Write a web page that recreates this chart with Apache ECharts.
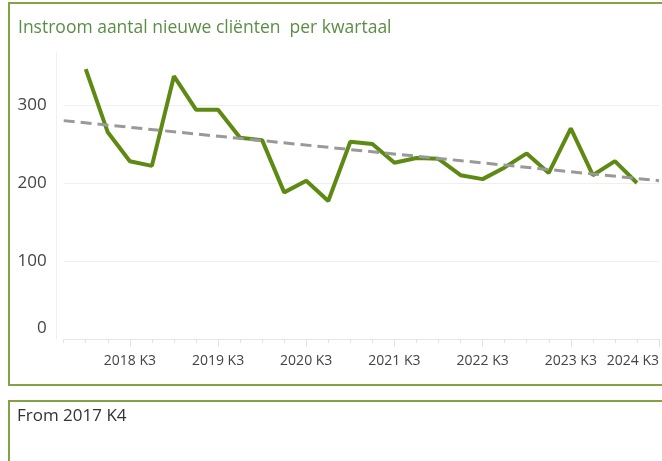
<!DOCTYPE html>
<html>
<head>
<meta charset="utf-8">
<script src="https://cdn.jsdelivr.net/npm/echarts@6/dist/echarts.min.js"></script>
<style>
  html, body { margin: 0; padding: 0; background: #fff; }
  #container { width: 662px; height: 461px; }
</style>
</head>
<body>
<div id="container"></div>
<script>
// kwartalen (2017 K4 heeft geen waarde)
const quarters = [
  '2017 K4',
  '2018 K1', '2018 K2', '2018 K3', '2018 K4',
  '2019 K1', '2019 K2', '2019 K3', '2019 K4',
  '2020 K1', '2020 K2', '2020 K3', '2020 K4',
  '2021 K1', '2021 K2', '2021 K3', '2021 K4',
  '2022 K1', '2022 K2', '2022 K3', '2022 K4',
  '2023 K1', '2023 K2', '2023 K3', '2023 K4',
  '2024 K1', '2024 K2', '2024 K3'
]
const instroom = [
  null,
  346, 265, 228, 222,
  337, 294, 294, 258,
  255, 188, 203, 177,
  253, 250, 226, 232,
  231, 210, 205, 220,
  238, 213, 270, 210,
  228, 200, null
]
const trendline = [280, 203]
const tickLabels = ['2018 K3', '2019 K3', '2020 K3', '2021 K3', '2022 K3', '2023 K3', '2024 K3']
const yTicks = [0, 100, 200, 300]

const green = '#5e8a14'
const border = '#82a244'
const fontFamily = '"Open Sans", "Noto Sans", sans-serif'

const option = {
  animation: false,
  title: {
    text: 'Instroom aantal nieuwe cliënten  per kwartaal',
    left: 18,
    top: 19,
    padding: 0,
    textStyle: { color: '#5b8e45', fontSize: 17.5, fontWeight: 'normal', fontFamily: fontFamily }
  },
  graphic: [
    { type: 'rect', shape: { x: 9, y: 3, width: 700, height: 382 }, style: { fill: 'none', stroke: border, lineWidth: 2 }, silent: true },
    { type: 'rect', shape: { x: 9, y: 401, width: 700, height: 100 }, style: { fill: 'none', stroke: border, lineWidth: 2 }, silent: true },
    { type: 'text', left: 17, top: 408, style: { text: 'From 2017 K4', fill: '#333', font: '17px ' + fontFamily } }
  ],
  grid: {
    left: 63.7,
    right: 1.6,
    top: 52,
    bottom: 122,
    containLabel: false
  },
  xAxis: [
    {
      type: 'category',
      boundaryGap: false,
      data: quarters,
      axisLine: { lineStyle: { color: '#e6e6e6', width: 1 } },
      axisTick: { interval: 0, length: 4, lineStyle: { color: '#e2e2e2' } },
      axisLabel: {
        interval: (index, value) => tickLabels.indexOf(value) >= 0,
        alignMaxLabel: 'right',
        color: '#444',
        fontSize: 14,
        fontFamily: fontFamily,
        margin: 15
      },
      splitLine: { show: false }
    },
    {
      type: 'category',
      boundaryGap: false,
      data: quarters,
      position: 'bottom',
      axisLine: { show: false },
      axisTick: {
        interval: (index, value) => tickLabels.indexOf(value) >= 0,
        length: 8,
        lineStyle: { color: '#e2e2e2' }
      },
      axisLabel: { show: false },
      splitLine: { show: false }
    }
  ],
  yAxis: {
    type: 'value',
    min: yTicks[0],
    max: 368,
    interval: 100,
    offset: 7,
    axisLine: { show: true, lineStyle: { color: '#f0f0f0' } },
    axisTick: { show: false },
    axisLabel: {
      showMaxLabel: false,
      color: '#444',
      fontSize: 17,
      fontFamily: fontFamily,
      margin: 10,
      formatter: (v) => v === 0 ? '{zero|0}' : String(v),
      rich: {
        zero: { fontSize: 17, fontFamily: fontFamily, color: '#444', padding: [0, 0, 22, 0] }
      }
    },
    splitLine: { showMaxLine: false, showMinLine: false, lineStyle: { color: '#efefef', width: 1 } }
  },
  series: [
    {
      name: 'Instroom',
      type: 'line',
      data: instroom,
      symbol: 'none',
      lineStyle: { color: green, width: 4 },
      itemStyle: { color: green }
    },
    {
      name: 'Trend',
      type: 'line',
      data: [[0, trendline[0]], [quarters.length - 1, trendline[1]]],
      symbol: 'none',
      lineStyle: { color: '#999999', width: 3, type: [11, 6] },
      z: 3
    }
  ]
}

const myChart = echarts.init(document.getElementById('container'))
myChart.setOption(option)
window.addEventListener('resize', () => {
  myChart.resize()
})
</script>
</body>
</html>
